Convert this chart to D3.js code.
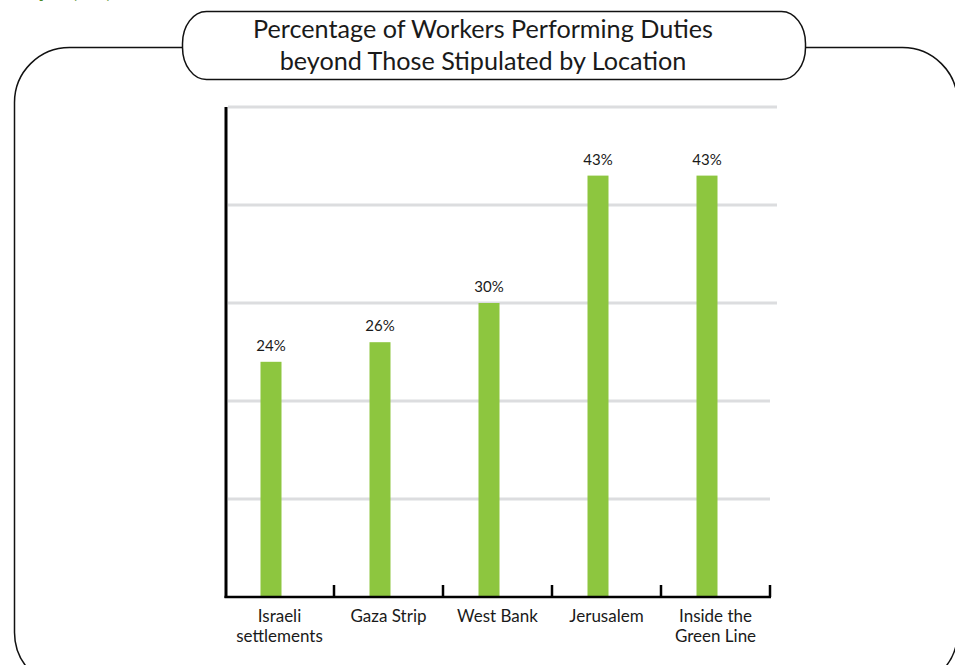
<!DOCTYPE html>
<html>
<head>
<meta charset="utf-8">
<script src="https://cdn.jsdelivr.net/npm/d3@7"></script>
<style>
  html, body { margin: 0; padding: 0; background: #fff; }
  svg { display: block; }
  text { font-family: Lato, "Open Sans", sans-serif; fill: #1a1a1a; }
</style>
</head>
<body>
<svg id="chart" width="955" height="665"></svg>
<script>
const categories = [["Israeli", "settlements"], ["Gaza Strip"], ["West Bank"], ["Jerusalem"], ["Inside the", "Green Line"]];
const values = [24, 26, 30, 43, 43];
const gridValues = [10, 20, 30, 40, 50];
const titleLines = ["Percentage of Workers Performing Duties", "beyond Those Stipulated by Location"];
const headerText = "Graph (12)";

const svg = d3.select("#chart");

// cropped header text at very top (only descenders visible, as in the source)
svg.append("text").attr("x", 0).attr("y", -3)
  .style("font-size", "24px").style("font-weight", "bold").style("fill", "#4e8a22")
  .text(headerText);

// outer rounded frame
svg.append("rect")
  .attr("x", 14.5).attr("y", 47.5).attr("width", 943).attr("height", 640)
  .attr("rx", 55).attr("ry", 55)
  .attr("fill", "none").attr("stroke", "#111").attr("stroke-width", 1.5);

// title pill
svg.append("rect")
  .attr("x", 182.5).attr("y", 11.5).attr("width", 623).attr("height", 68)
  .attr("rx", 24).attr("ry", 32)
  .attr("fill", "#fff").attr("stroke", "#111").attr("stroke-width", 1.5);

svg.selectAll("text.title").data(titleLines).enter().append("text")
  .attr("class", "title")
  .attr("x", 483).attr("y", (d, i) => 38 + i * 32)
  .attr("text-anchor", "middle")
  .style("font-size", "25.2px")
  .text(d => d);

// scales
const x = d3.scaleBand().domain(d3.range(categories.length)).range([226, 771]);
const y = d3.scaleLinear().domain([0, 50]).range([597, 107]);
const barOffset = -9.5; // bars sit left of band centre

// gridlines
svg.selectAll("line.grid").data(gridValues).enter().append("line")
  .attr("class", "grid")
  .attr("x1", 228).attr("x2", d => d >= 30 ? 777 : 770)
  .attr("y1", d => y(d)).attr("y2", d => y(d))
  .attr("stroke", "#dcdddf").attr("stroke-width", 3);

// bars
const barW = 21;
const cx = i => x(i) + x.bandwidth() / 2 + barOffset;
svg.selectAll("rect.bar").data(values).enter().append("rect")
  .attr("class", "bar")
  .attr("x", (d, i) => cx(i) - barW / 2)
  .attr("width", barW)
  .attr("y", d => y(d))
  .attr("height", d => y(0) - y(d))
  .attr("fill", "#8dc63f");

// value labels
svg.selectAll("text.val").data(values).enter().append("text")
  .attr("class", "val")
  .attr("x", (d, i) => cx(i))
  .attr("y", d => y(d) - 11)
  .attr("text-anchor", "middle")
  .style("font-size", "15px")
  .text(d => d + "%");

// y axis line
svg.append("line")
  .attr("x1", 226).attr("x2", 226).attr("y1", y(50)).attr("y2", y(0) + 1)
  .attr("stroke", "#000").attr("stroke-width", 3);

// x axis baseline with boundary ticks
const xAxis = d3.axisBottom(x).tickSize(0).tickFormat("");
const gx = svg.append("g").attr("transform", `translate(0,${y(0)})`).call(xAxis);
gx.select(".domain").remove();
svg.append("line")
  .attr("x1", 224.5).attr("x2", 771).attr("y1", y(0)).attr("y2", y(0))
  .attr("stroke", "#000").attr("stroke-width", 2.5);
const bounds = d3.range(1, categories.length + 1).map(i => x(i - 1) + x.bandwidth());
svg.selectAll("line.tick").data(bounds).enter().append("line")
  .attr("class", "tick")
  .attr("x1", d => d - 1).attr("x2", d => d - 1)
  .attr("y1", y(0) - 12).attr("y2", y(0))
  .attr("stroke", "#000").attr("stroke-width", 2.5);

// category labels
const cat = svg.selectAll("text.cat").data(categories).enter().append("text")
  .attr("class", "cat")
  .attr("text-anchor", "middle")
  .style("font-size", "17px");
cat.selectAll("tspan").data((d, i) => d.map(t => ({ t, i }))).enter().append("tspan")
  .attr("x", d => x(d.i) + x.bandwidth() / 2 - 1)
  .attr("y", (d, j) => 622 + j * 19.5)
  .text(d => d.t);
</script>
</body>
</html>
